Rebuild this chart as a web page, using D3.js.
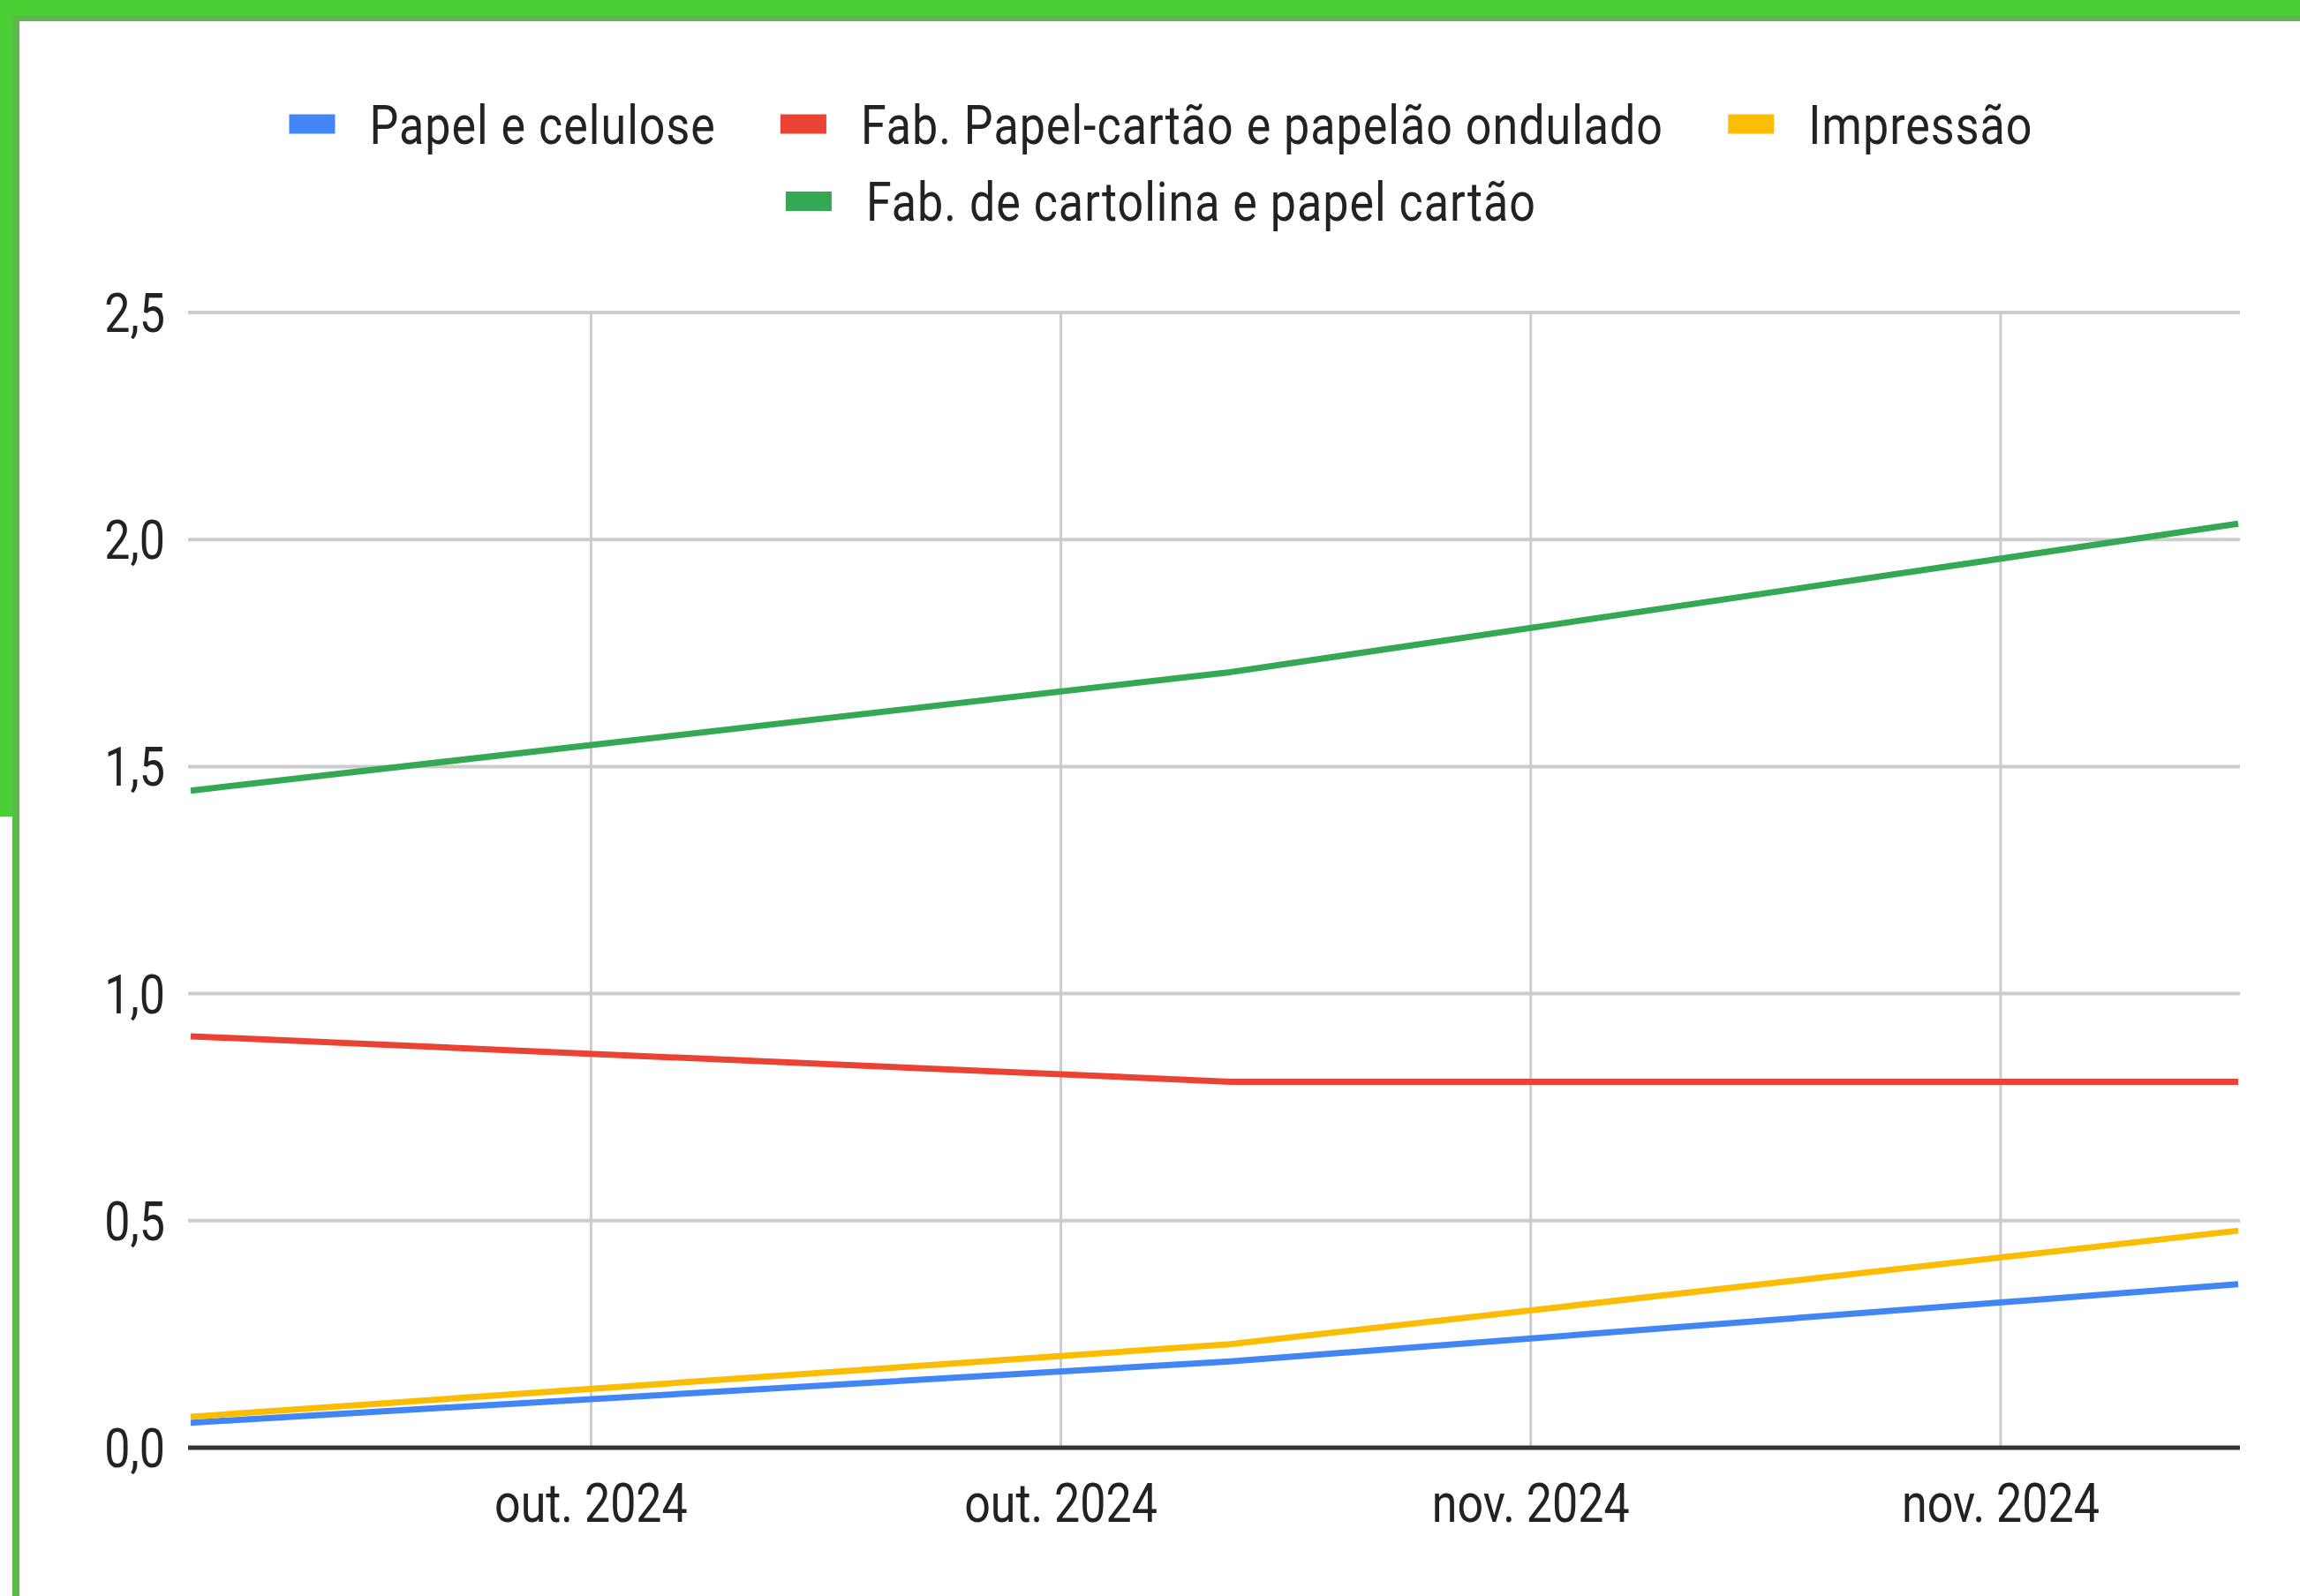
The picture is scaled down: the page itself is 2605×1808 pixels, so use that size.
<!DOCTYPE html>
<html>
<head>
<meta charset="utf-8">
<script src="https://cdn.jsdelivr.net/npm/d3@7"></script>
<style>
  body { margin: 0; background: #fff; }
  text { font-family: Roboto, Arial, sans-serif; }
</style>
</head>
<body>
<div id="chart"></div>
<script>
// values
var dates = ["2024-09-25", "2024-10-28", "2024-11-29"];
var seriesNames = ["Papel e celulose", "Fab. Papel-cartão e papelão ondulado", "Impressão", "Fab. de cartolina e papel cartão"];
var papelCelulose = [0.055, 0.19, 0.36];
var papelaoOndulado = [0.906, 0.806, 0.806];
var impressao = [0.068, 0.228, 0.478];
var cartolina = [1.447, 1.708, 2.035];
var colors = ["#4285f4", "#ea4335", "#fbbc04", "#34a853"];

var xTickDates = ["2024-10-07T17:00", "2024-10-22T15:00", "2024-11-06T13:00", "2024-11-21T11:00"];
var xTickLabels = ["out. 2024", "out. 2024", "nov. 2024", "nov. 2024"];
var yTicks = [0, 0.5, 1, 1.5, 2, 2.5];
var yTickLabels = ["0,0", "0,5", "1,0", "1,5", "2,0", "2,5"];

var W = 2605, H = 1808;
var SY = 1.18; // picture is stretched a bit vertically
var fontSize = 52;

var parseDay = d3.timeParse("%Y-%m-%d");
var parseTime = d3.timeParse("%Y-%m-%dT%H:%M");

var series = [papelCelulose, papelaoOndulado, impressao, cartolina].map(function (vals, i) {
  return {
    name: seriesNames[i],
    color: colors[i],
    values: vals.map(function (v, j) { return { date: parseDay(dates[j]), value: v }; })
  };
});

var svg = d3.select("#chart").append("svg")
  .attr("width", W)
  .attr("height", H);

svg.append("rect").attr("width", W).attr("height", H).attr("fill", "#fff");

// green frame
svg.append("rect").attr("x", 0).attr("y", 0).attr("width", W).attr("height", 17).attr("fill", "#49cf34");
svg.append("rect").attr("x", 14).attr("y", 17).attr("width", W - 14).attr("height", 7).attr("fill", "#5bba4b");
svg.append("rect").attr("x", 0).attr("y", 0).attr("width", 14).attr("height", 925).attr("fill", "#49cf34");
svg.append("rect").attr("x", 14).attr("y", 17).attr("width", 8).attr("height", H - 17).attr("fill", "#5bba4b");

var x = d3.scaleTime()
  .domain([parseDay(dates[0]), parseDay(dates[dates.length - 1])])
  .range([216, 2535]);

var y = d3.scaleLinear()
  .domain([0, 2.5])
  .range([1640, 354]);

function stretchedText(g, tx, ty, str, anchor) {
  return g.append("text")
    .attr("transform", "translate(" + tx + "," + ty + ") scale(1," + SY + ")")
    .attr("text-anchor", anchor)
    .attr("font-size", fontSize)
    .attr("fill", "#222")
    .text(str);
}

// horizontal grid
svg.append("g").selectAll("line")
  .data(yTicks.filter(function (t) { return t !== 0; }))
  .enter().append("line")
  .attr("x1", 213).attr("x2", 2537)
  .attr("y1", function (d) { return y(d); })
  .attr("y2", function (d) { return y(d); })
  .attr("stroke", "#cccccc")
  .attr("stroke-width", 4);

// vertical grid
var xt = xTickDates.map(parseTime);
svg.append("g").selectAll("line")
  .data(xt)
  .enter().append("line")
  .attr("x1", function (d) { return x(d); })
  .attr("x2", function (d) { return x(d); })
  .attr("y1", y(2.5)).attr("y2", y(0))
  .attr("stroke", "#cccccc")
  .attr("stroke-width", 3);

// zero line
svg.append("line")
  .attr("x1", 213).attr("x2", 2537)
  .attr("y1", y(0)).attr("y2", y(0))
  .attr("stroke", "#333333")
  .attr("stroke-width", 5);

// y labels
var yl = svg.append("g");
yTicks.forEach(function (t, i) {
  stretchedText(yl, 187, y(t) + 22, yTickLabels[i], "end");
});

// x labels
var xl = svg.append("g");
xt.forEach(function (d, i) {
  stretchedText(xl, x(d), 1724, xTickLabels[i], "middle");
});

// lines
var line = d3.line()
  .x(function (d) { return x(d.date); })
  .y(function (d) { return y(d.value); });

svg.append("g").selectAll("path")
  .data(series)
  .enter().append("path")
  .attr("d", function (d) { return line(d.values); })
  .attr("fill", "none")
  .attr("stroke", function (d) { return d.color; })
  .attr("stroke-width", 7)
  .attr("stroke-linejoin", "round");

// legend, two centred rows
var legend = svg.append("g");
var sw = 52, swGap = 39, itemGap = 73, maxRow = 2200, legendCx = 1315;
var rowY = [140.5, 228];
var spacing = 1;

var measure = legend.append("text").attr("font-size", fontSize).attr("letter-spacing", spacing);
var items = series.map(function (s) {
  measure.text(s.name);
  return { s: s, w: sw + swGap + measure.node().getComputedTextLength() };
});
measure.remove();

var rows = [[]], cur = 0;
items.forEach(function (it) {
  var r = rows[rows.length - 1];
  var add = (r.length ? itemGap : 0) + it.w;
  if (r.length && cur + add > maxRow) { rows.push([it]); cur = it.w; }
  else { r.push(it); cur += add; }
});

rows.forEach(function (r, ri) {
  var total = d3.sum(r, function (it) { return it.w; }) + itemGap * (r.length - 1);
  var cx = legendCx - total / 2;
  r.forEach(function (it) {
    legend.append("rect")
      .attr("x", cx).attr("y", rowY[ri] - 11)
      .attr("width", sw).attr("height", 22)
      .attr("fill", it.s.color);
    stretchedText(legend, cx + sw + swGap, rowY[ri] + 22, it.s.name, "start")
      .attr("letter-spacing", spacing);
    cx += it.w + itemGap;
  });
});
</script>
</body>
</html>
